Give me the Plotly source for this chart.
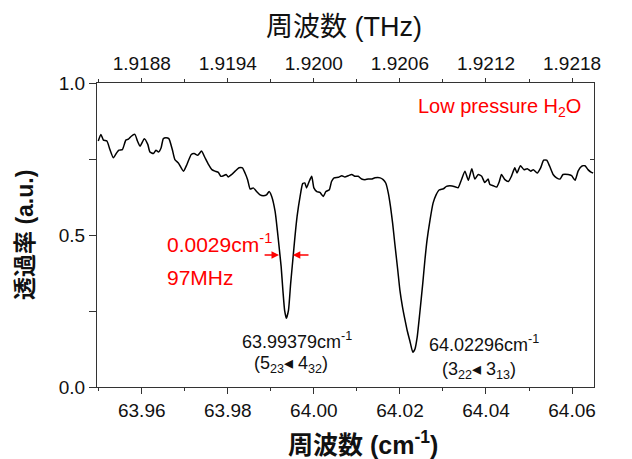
import plotly.graph_objects as go

# ---- data ----
wavenumber = [
    63.9499, 63.9505, 63.9511, 63.9519, 63.9526, 63.9534, 63.9542, 63.9547, 63.9555, 63.9563,
    63.9569, 63.9575, 63.9584, 63.9590, 63.9596, 63.9606, 63.9614, 63.9619, 63.9627, 63.9633,
    63.9639, 63.9645, 63.9650, 63.9656, 63.9663, 63.9671, 63.9677, 63.9685, 63.9697, 63.9705,
    63.9715, 63.9722, 63.9730, 63.9739, 63.9747, 63.9755, 63.9763, 63.9770, 63.9778, 63.9784,
    63.9790, 63.9796, 63.9801, 63.9809, 63.9817, 63.9826, 63.9834, 63.9840, 63.9846, 63.9852,
    63.9859, 63.9867, 63.9875, 63.9882, 63.9890, 63.9896, 63.9902, 63.9910, 63.9915, 63.9920,
    63.9924, 63.9928, 63.9932, 63.9936, 63.9941, 63.9946, 63.9951, 63.9956, 63.9961, 63.9968,
    63.9974, 63.9979, 63.9983, 63.9989, 63.9995, 64.0000, 64.0007, 64.0014, 64.0022, 64.0028,
    64.0036, 64.0041, 64.0047, 64.0057, 64.0065, 64.0072, 64.0080, 64.0088, 64.0095, 64.0103,
    64.0111, 64.0119, 64.0126, 64.0134, 64.0142, 64.0154, 64.0161, 64.0167, 64.0173, 64.0178,
    64.0183, 64.0188, 64.0195, 64.0200, 64.0206, 64.0212, 64.0217, 64.0223, 64.0230, 64.0235,
    64.0240, 64.0246, 64.0253, 64.0258, 64.0263, 64.0270, 64.0277, 64.0284, 64.0291, 64.0301,
    64.0308, 64.0316, 64.0328, 64.0335, 64.0343, 64.0351, 64.0359, 64.0367, 64.0374, 64.0382,
    64.0390, 64.0397, 64.0405, 64.0409, 64.0417, 64.0425, 64.0431, 64.0436, 64.0444, 64.0452,
    64.0459, 64.0467, 64.0472, 64.0480, 64.0488, 64.0496, 64.0504, 64.0510, 64.0519, 64.0527,
    64.0534, 64.0541, 64.0548, 64.0556, 64.0564, 64.0572, 64.0579, 64.0591, 64.0599, 64.0607,
    64.0614, 64.0622, 64.0630, 64.0637, 64.0645, 64.0649,
]
transmittance = [
    0.809, 0.831, 0.812, 0.809, 0.781, 0.754, 0.771, 0.779, 0.781, 0.812,
    0.815, 0.824, 0.831, 0.809, 0.792, 0.817, 0.798, 0.773, 0.768, 0.779,
    0.773, 0.787, 0.817, 0.820, 0.817, 0.781, 0.748, 0.737, 0.710, 0.732,
    0.765, 0.768, 0.762, 0.776, 0.754, 0.732, 0.715, 0.710, 0.706, 0.693,
    0.695, 0.699, 0.691, 0.699, 0.710, 0.721, 0.721, 0.704, 0.682, 0.651,
    0.655, 0.643, 0.632, 0.629, 0.632, 0.643, 0.627, 0.577, 0.517, 0.450,
    0.395, 0.318, 0.252, 0.226, 0.252, 0.340, 0.417, 0.494, 0.561, 0.627,
    0.669, 0.671, 0.655, 0.676, 0.693, 0.655, 0.643, 0.640, 0.627, 0.643,
    0.649, 0.676, 0.688, 0.690, 0.695, 0.691, 0.695, 0.699, 0.693, 0.693,
    0.684, 0.682, 0.684, 0.684, 0.688, 0.688, 0.682, 0.671, 0.638, 0.594,
    0.539, 0.473, 0.384, 0.318, 0.263, 0.219, 0.185, 0.152, 0.114, 0.125,
    0.163, 0.241, 0.340, 0.417, 0.483, 0.550, 0.605, 0.632, 0.648, 0.652,
    0.660, 0.662, 0.659, 0.655, 0.682, 0.710, 0.680, 0.718, 0.684, 0.699,
    0.693, 0.673, 0.684, 0.666, 0.662, 0.658, 0.676, 0.699, 0.682, 0.676,
    0.693, 0.721, 0.704, 0.728, 0.715, 0.718, 0.710, 0.715, 0.704, 0.721,
    0.746, 0.746, 0.726, 0.699, 0.688, 0.684, 0.699, 0.699, 0.695, 0.680,
    0.710, 0.726, 0.728, 0.715, 0.706, 0.704,
]

x_range = [63.9496, 64.0651]
x_ticks = [63.96, 63.98, 64.00, 64.02, 64.04, 64.06]
thz_ticks = [1.9188, 1.9194, 1.9200, 1.9206, 1.9212, 1.9218]
y_ticks = [0.0, 0.5, 1.0]

# top axis is a linear relabelling of the bottom one
thz_per_cm = (thz_ticks[1] - thz_ticks[0]) / (x_ticks[1] - x_ticks[0])
def to_thz(v):
    return thz_ticks[0] + thz_per_cm * (v - x_ticks[0])

peak_labels = [
    ("63.99379cm<sup>-1</sup>", "(5<sub>23</sub>◂ 4<sub>32</sub>)"),
    ("64.02296cm<sup>-1</sup>", "(3<sub>22</sub>◂ 3<sub>13</sub>)"),
]
fwhm_text = ["0.0029cm<sup>-1</sup>", "97MHz"]

FONT = "Arial, 'Liberation Sans', 'Noto Sans CJK JP', sans-serif"
AX = "#333333"
TXT = "#111111"

fig = go.Figure()
fig.add_trace(go.Scatter(
    x=wavenumber, y=transmittance, mode="lines",
    line=dict(color="black", width=1.5, shape="spline", smoothing=0.5),
    hoverinfo="skip", showlegend=False,
))
fig.add_trace(go.Scatter(
    x=[to_thz(v) for v in wavenumber], y=transmittance, mode="lines",
    line=dict(color="rgba(0,0,0,0)", width=0), xaxis="x2", yaxis="y2",
    hoverinfo="skip", showlegend=False,
))

tickfont = dict(family=FONT, size=19, color=TXT)
fig.update_layout(
    width=632, height=459,
    margin=dict(l=97, r=38, t=83, b=72),
    paper_bgcolor="white", plot_bgcolor="white",
    font=dict(family=FONT, color=TXT),
    xaxis=dict(
        range=x_range, tickvals=x_ticks, ticktext=[f"{v:.2f}" for v in x_ticks],
        ticks="outside", ticklen=6, tickwidth=1.2, tickcolor=AX,
        minor=dict(dtick=0.01, tick0=63.96, ticks="outside", ticklen=3, tickcolor=AX),
        showline=True, linecolor=AX, linewidth=1.2, showgrid=False, zeroline=False,
        tickfont=tickfont,
    ),
    xaxis2=dict(
        range=[to_thz(x_range[0]), to_thz(x_range[1])], overlaying="x", side="top",
        tickvals=thz_ticks, ticktext=[f"{v:.4f}" for v in thz_ticks],
        ticks="outside", ticklen=4, tickwidth=1.2, tickcolor=AX,
        minor=dict(dtick=0.0003, tick0=1.9188, ticks="outside", ticklen=3, tickcolor=AX),
        showline=True, linecolor=AX, linewidth=1.2, showgrid=False, zeroline=False,
        tickfont=tickfont,
    ),
    yaxis=dict(
        range=[0, 1.0], tickvals=y_ticks, ticktext=[f"{v:.1f}" for v in y_ticks],
        ticks="outside", ticklen=7, tickwidth=1.2, tickcolor=AX,
        minor=dict(dtick=0.25, tick0=0, ticks="outside", ticklen=7, tickcolor=AX),
        showline=True, linecolor=AX, linewidth=1.2, showgrid=False, zeroline=False,
        tickfont=tickfont,
    ),
    yaxis2=dict(
        range=[0, 1.0], overlaying="y", side="right", showticklabels=False,
        tickvals=[0.75], ticks="inside", ticklen=4, tickcolor=AX,
        showline=True, linecolor=AX, linewidth=1.2, showgrid=False, zeroline=False,
    ),
)

ann = []
# axis titles
ann.append(dict(text="周波数 (THz)", xref="paper", yref="paper", x=0.496, y=1, yshift=56,
                xanchor="center", yanchor="middle", showarrow=False,
                font=dict(size=27, family=FONT, color=TXT)))
ann.append(dict(text="<b>周波数 (cm<sup>-1</sup>)</b>", xref="paper", yref="paper", x=0.535, y=0,
                yshift=-56, xanchor="center", yanchor="middle", showarrow=False,
                font=dict(size=25, family=FONT, color=TXT)))
ann.append(dict(text="<b>透過率 (a.u.)</b>", xref="paper", yref="paper", x=0, y=0.5, xshift=-72,
                xanchor="center", yanchor="middle", textangle=-90, showarrow=False,
                font=dict(size=23, family=FONT, color=TXT)))
# sample label
ann.append(dict(text="Low pressure H<sub>2</sub>O", x=64.0625, y=0.921, xanchor="right",
                showarrow=False, font=dict(size=20, family=FONT, color="red")))
# peak labels
ann.append(dict(text=peak_labels[0][0], x=63.9960, y=0.152, showarrow=False,
                font=dict(size=18, family=FONT, color=TXT)))
ann.append(dict(text=peak_labels[0][1], x=63.9947, y=0.073, showarrow=False,
                font=dict(size=18, family=FONT, color=TXT)))
ann.append(dict(text=peak_labels[1][0], x=64.0395, y=0.142, showarrow=False,
                font=dict(size=18, family=FONT, color=TXT)))
ann.append(dict(text=peak_labels[1][1], x=64.0384, y=0.053, showarrow=False,
                font=dict(size=18, family=FONT, color=TXT)))
# FWHM
ann.append(dict(text=fwhm_text[0], x=63.9654, y=0.474, xanchor="left", showarrow=False,
                font=dict(size=21, family=FONT, color="red")))
ann.append(dict(text=fwhm_text[1], x=63.9654, y=0.361, xanchor="left", showarrow=False,
                font=dict(size=21, family=FONT, color="red")))
ann.append(dict(text="", x=63.9919, y=0.434, ax=63.9882, ay=0.434, axref="x", ayref="y",
                showarrow=True, arrowhead=2, arrowsize=1, arrowwidth=1.5, arrowcolor="red"))
ann.append(dict(text="", x=63.9951, y=0.434, ax=63.9991, ay=0.434, axref="x", ayref="y",
                showarrow=True, arrowhead=2, arrowsize=1, arrowwidth=1.5, arrowcolor="red"))
fig.update_layout(annotations=ann)

fig.write_html(
    "out.html",
    config={"displayModeBar": False},
    post_script="document.body.style.margin='0';document.body.style.overflow='hidden';",
)
